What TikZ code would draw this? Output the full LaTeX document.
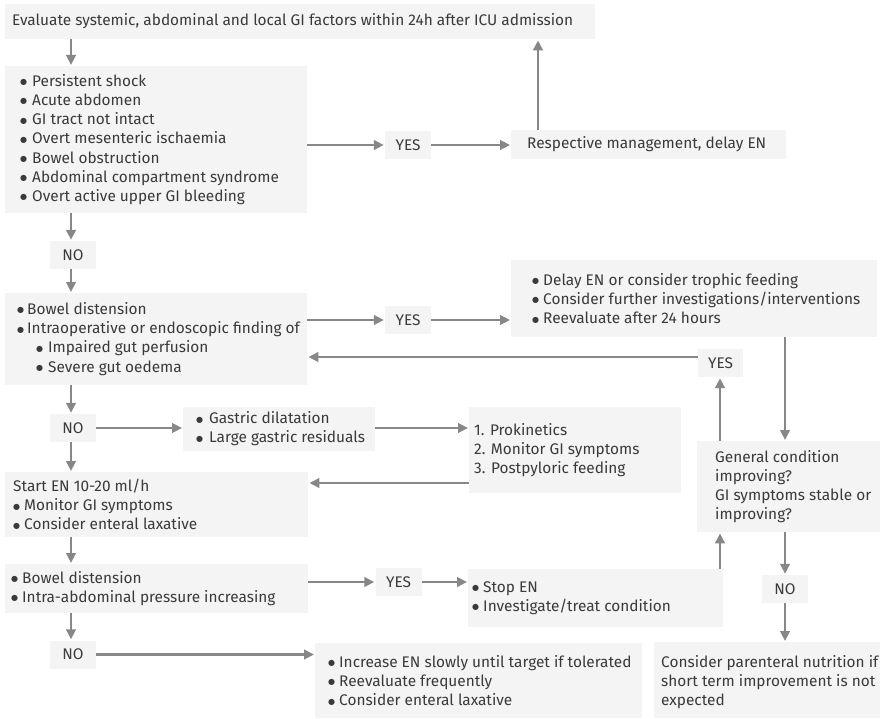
\documentclass[tikz,border=0pt]{standalone}
\usepackage{fontspec}
\setmainfont{Fira Sans}
\newfontfamily\dvfont{DejaVu Sans}
\usetikzlibrary{arrows.meta}
\definecolor{boxfill}{HTML}{F4F4F4}
\definecolor{arrcol}{HTML}{878787}
\definecolor{txtcol}{HTML}{3A3A3A}
\newcommand\bl[1][11pt]{\makebox[#1][l]{\raisebox{1.6pt}{\dvfont\fontsize{8}{8}\selectfont ●}}}
\begin{document}
\begin{tikzpicture}[x=1pt,y=-1pt,
  box/.style={fill=boxfill, draw=none, inner sep=0pt, anchor=north west},
  txt/.style={anchor=west, align=left, inner sep=0pt, text=txtcol, font=\fontsize{15.4}{19.2}\selectfont},
  lbl/.style={fill=boxfill, inner sep=0pt, anchor=center, minimum width=46pt, minimum height=28pt, text=txtcol, font=\fontsize{15.4}{19.2}\selectfont},
  arr/.style={draw=arrcol, line width=2.6pt, -{Triangle[length=10pt,width=9.5pt]}, shorten >=1pt},
  ln/.style={draw=arrcol, line width=2.6pt}]
\useasboundingbox[fill=white] (0,0) rectangle (880,719);
% boxes
\node[box, minimum width=590pt, minimum height=35pt] (top) at (5,4) {};
\node[box, minimum width=302pt, minimum height=147pt] (b2) at (5,66) {};
\node[lbl] (yes1) at (408,145) {YES};
\node[box, minimum width=275pt, minimum height=29pt] (resp) at (511,130) {};
\node[lbl] (no1) at (73,255) {NO};
\node[box, minimum width=302pt, minimum height=92pt] (b3) at (5,293) {};
\node[lbl] (yes2) at (408,320) {YES};
\node[box, minimum width=366pt, minimum height=77pt] (delay) at (511,260) {};
\node[lbl, minimum width=45pt] (yes3) at (720.5,363) {YES};
\node[box, minimum width=183pt, minimum height=91pt] (gc) at (697,441) {};
\node[lbl] (no2) at (73,428) {NO};
\node[box, minimum width=192pt, minimum height=44pt] (gas) at (183,407) {};
\node[box, minimum width=212pt, minimum height=86pt] (prok) at (469,407) {};
\node[box, minimum width=303pt, minimum height=65pt] (start) at (5,472) {};
\node[box, minimum width=303pt, minimum height=49pt] (bd2) at (5,564) {};
\node[lbl] (yes4) at (398.5,582) {YES};
\node[box, minimum width=255pt, minimum height=58pt] (stop) at (468,569) {};
\node[lbl] (no3) at (73,654.5) {NO};
\node[box, minimum width=327pt, minimum height=75pt] (inc) at (315,643) {};
\node[lbl] (no4) at (785,589) {NO};
\node[box, minimum width=226pt, minimum height=76pt] (par) at (654,642) {};
% texts
\node[txt] (ttop) at (12,21.5) {Evaluate systemic, abdominal and local GI factors within 24h after ICU admission};
\node[txt] (tb2) at (20,139.5) {\bl[12pt]Persistent shock\\\bl[12pt]Acute abdomen\\\bl[12pt]GI tract not intact\\\bl[12pt]Overt mesenteric ischaemia\\\bl[12pt]Bowel obstruction\\\bl[12pt]Abdominal compartment syndrome\\\bl[12pt]Overt active upper GI bleeding};
\node[txt] (tresp) at (527,144.5) {Respective management, delay EN};
\node[txt] (tb3) at (17,339) {\bl[10pt]Bowel distension\\\bl[10pt]Intraoperative or endoscopic finding of\\\hspace*{19pt}\bl[12pt]Impaired gut perfusion\\\hspace*{19pt}\bl[12pt]Severe gut oedema};
\node[txt] (tdelay) at (532,298.5) {\bl Delay EN or consider trophic feeding\\\bl Consider further investigations/interventions\\\bl Reevaluate after 24 hours};
\node[txt] (tgc) at (715,486.5) {General condition\\improving?\\GI symptoms stable or\\improving?};
\node[txt] (tgas) at (196,429) {\bl[13pt]Gastric dilatation\\\bl[13pt]Large gastric residuals};
\node[txt] (tprok) at (474,450) {1. Prokinetics\\2. Monitor GI symptoms\\3. Postpyloric feeding};
\node[txt] (tstart) at (13,504.5) {Start EN 10-20 ml/h\\\bl Monitor GI symptoms\\\bl Consider enteral laxative};
\node[txt] (tbd2) at (11,588.5) {\bl Bowel distension\\\bl Intra-abdominal pressure increasing};
\node[txt] (tstop) at (472,598) {\bl Stop EN\\\bl Investigate/treat condition};
\node[txt] (tinc) at (328,680.5) {\bl Increase EN slowly until target if tolerated\\\bl Reevaluate frequently\\\bl Consider enteral laxative};
\node[txt] (tpar) at (661,682) {Consider parenteral nutrition if\\short term improvement is not\\expected};
% helper coordinates
\coordinate (cx71) at (71,0);
\coordinate (cx538) at (538,0);
\coordinate (cx785) at (785,0);
\coordinate (cx720) at (720,0);
\coordinate (cy357) at (0,357);
\coordinate (cy483) at (0,483);
% connectors
\draw[arr] (top.south -| cx71) -- (b2.north -| cx71);
\draw[arr] (b2.east |- yes1) -- (yes1.west);
\draw[arr] (yes1.east) -- (resp.west |- yes1);
\draw[arr] (resp.north -| cx538) -- (top.south -| cx538);
\draw[arr] (b2.south -| cx71) -- (no1.north -| cx71);
\draw[arr] (no1.south -| cx71) -- (b3.north -| cx71);
\draw[arr] (b3.east |- yes2) -- (yes2.west);
\draw[arr] (yes2.east) -- (delay.west |- yes2);
\draw[arr] (delay.south -| cx785) -- (gc.north -| cx785);
\draw[arr] (gc.north -| cx720) -- (yes3.south -| cx720);
\draw[arr] (yes3.west |- cy357) -- (b3.east |- cy357);
\draw[arr] (b3.south -| cx71) -- (no2.north -| cx71);
\draw[arr] (no2.east) -- (gas.west |- no2);
\draw[arr] (gas.east |- no2) -- (prok.west |- no2);
\draw[arr] (prok.west |- cy483) -- (start.east |- cy483);
\draw[arr] (no2.south -| cx71) -- (start.north -| cx71);
\draw[arr] (start.south -| cx71) -- (bd2.north -| cx71);
\draw[arr] (bd2.east |- yes4) -- (yes4.west);
\draw[arr] (yes4.east) -- (stop.west |- yes4);
\draw[arr] (stop.north -| cx720) -- (gc.south -| cx720);
\draw[arr] (bd2.south -| cx71) -- (no3.north -| cx71);
\draw[arr] (no3.east) -- (inc.west |- no3);
\draw[arr] (gc.south -| cx785) -- (no4.north);
\draw[arr] (no4.south) -- (par.north -| cx785);
\end{tikzpicture}
\end{document}
